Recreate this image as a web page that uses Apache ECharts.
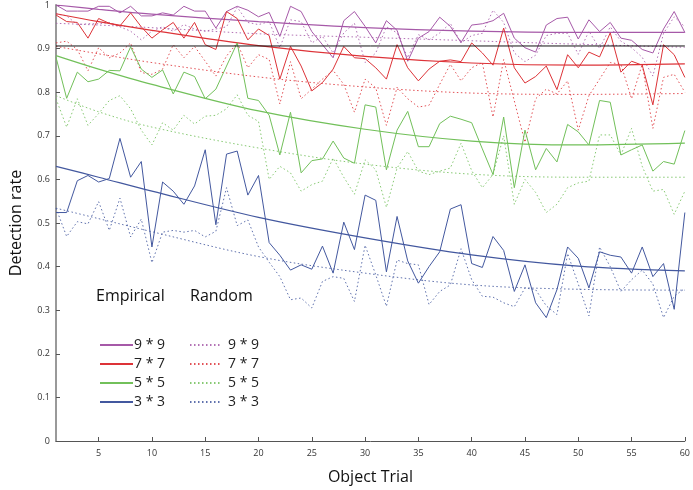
<!DOCTYPE html>
<html><head><meta charset="utf-8">
<script src="https://cdn.jsdelivr.net/npm/echarts@6/dist/echarts.min.js"></script>
<style>html,body{margin:0;padding:0;background:#fff}#c{width:693px;height:490px}</style>
</head><body><div id="c"></div>
<script>
// ---- data ----
var trials = [];
for (var t = 1; t <= 60; t++) trials.push(t);
var xTicks = [5,10,15,20,25,30,35,40,45,50,55,60];
var yTicks = [0,0.1,0.2,0.3,0.4,0.5,0.6,0.7,0.8,0.9,1];

var emp9 = [1.0,0.986,0.986,0.986,0.997,0.997,0.982,0.997,0.975,0.975,0.982,0.977,0.997,0.986,0.986,0.947,0.985,0.997,0.988,0.973,0.983,0.928,0.997,0.985,0.939,0.909,0.879,0.964,0.985,0.951,0.913,0.964,0.942,0.871,0.924,0.939,0.972,0.951,0.914,0.954,0.957,0.964,0.981,0.924,0.902,0.892,0.954,0.969,0.972,0.922,0.966,0.939,0.96,0.924,0.919,0.898,0.89,0.945,0.985,0.937];
var emp7 = [0.977,0.962,0.96,0.924,0.969,0.958,0.952,0.982,0.95,0.924,0.943,0.96,0.924,0.96,0.909,0.898,0.985,0.969,0.92,0.945,0.93,0.83,0.905,0.86,0.803,0.822,0.853,0.905,0.879,0.877,0.856,0.83,0.909,0.856,0.826,0.853,0.871,0.874,0.87,0.913,0.89,0.862,0.947,0.856,0.821,0.836,0.86,0.806,0.886,0.856,0.892,0.881,0.936,0.846,0.871,0.862,0.771,0.909,0.886,0.834];
var emp5 = [0.88,0.786,0.846,0.824,0.83,0.85,0.849,0.904,0.853,0.834,0.851,0.796,0.846,0.836,0.785,0.807,0.86,0.913,0.786,0.781,0.747,0.656,0.754,0.615,0.643,0.647,0.688,0.649,0.637,0.771,0.766,0.622,0.713,0.756,0.675,0.675,0.728,0.745,0.738,0.73,0.67,0.611,0.743,0.581,0.713,0.622,0.671,0.64,0.726,0.709,0.679,0.781,0.777,0.656,0.668,0.679,0.619,0.641,0.635,0.712];
var emp3 = [0.524,0.524,0.597,0.609,0.594,0.602,0.694,0.605,0.641,0.445,0.594,0.573,0.543,0.585,0.668,0.496,0.658,0.665,0.564,0.609,0.455,0.426,0.392,0.404,0.394,0.447,0.385,0.502,0.439,0.564,0.552,0.388,0.515,0.413,0.362,0.4,0.434,0.532,0.542,0.407,0.398,0.469,0.437,0.343,0.404,0.317,0.283,0.347,0.445,0.419,0.351,0.434,0.426,0.422,0.385,0.445,0.377,0.407,0.302,0.524];
var rnd9 = [0.98,0.975,0.955,0.957,0.957,0.96,0.95,0.94,0.92,0.94,0.95,0.94,0.955,0.945,0.94,0.945,0.95,0.995,0.96,0.955,0.962,0.902,0.966,0.962,0.913,0.928,0.89,0.936,0.958,0.868,0.89,0.95,0.936,0.879,0.932,0.92,0.936,0.958,0.913,0.93,0.935,0.988,0.96,0.89,0.87,0.885,0.93,0.935,0.935,0.887,0.94,0.9,0.95,0.917,0.902,0.88,0.837,0.935,0.973,0.95];
var rnd7 = [0.913,0.917,0.898,0.849,0.902,0.879,0.89,0.913,0.845,0.841,0.853,0.909,0.879,0.905,0.871,0.837,0.883,0.913,0.856,0.886,0.875,0.773,0.87,0.785,0.807,0.83,0.85,0.818,0.754,0.83,0.81,0.724,0.811,0.785,0.766,0.77,0.818,0.864,0.826,0.856,0.868,0.743,0.875,0.78,0.685,0.785,0.807,0.796,0.826,0.713,0.792,0.83,0.868,0.864,0.785,0.864,0.717,0.834,0.841,0.8];
var rnd5 = [0.785,0.72,0.785,0.724,0.751,0.781,0.792,0.762,0.713,0.679,0.73,0.713,0.747,0.727,0.745,0.747,0.762,0.794,0.747,0.733,0.6,0.63,0.615,0.573,0.588,0.596,0.649,0.605,0.566,0.645,0.622,0.536,0.626,0.664,0.619,0.611,0.619,0.626,0.683,0.62,0.581,0.611,0.7,0.543,0.6,0.57,0.524,0.543,0.581,0.592,0.596,0.702,0.702,0.656,0.717,0.63,0.573,0.577,0.52,0.573];
var rnd3 = [0.534,0.469,0.503,0.498,0.549,0.483,0.557,0.468,0.509,0.409,0.479,0.483,0.479,0.483,0.468,0.481,0.581,0.494,0.507,0.445,0.41,0.377,0.324,0.328,0.305,0.366,0.377,0.373,0.32,0.449,0.381,0.309,0.415,0.407,0.404,0.313,0.343,0.358,0.441,0.37,0.332,0.33,0.317,0.308,0.351,0.347,0.31,0.29,0.43,0.36,0.287,0.445,0.4,0.343,0.37,0.392,0.36,0.283,0.332,0.35];

// fitted trend curves, read at these trials
var fitX = [1,5,10,20,30,40,50,60];
var fitEmp9 = [1.0,0.99,0.979,0.962,0.948,0.94,0.937,0.937];
var fitEmp7 = [0.98,0.962,0.942,0.907,0.882,0.867,0.862,0.865];
var fitEmp5 = [0.884,0.853,0.818,0.757,0.715,0.688,0.679,0.683];
var fitEmp3 = [0.63,0.605,0.573,0.513,0.466,0.427,0.401,0.39];
var fitRnd9 = [0.958,0.954,0.948,0.934,0.926,0.918,0.91,0.903];
var fitRnd7 = [0.905,0.888,0.868,0.835,0.812,0.798,0.795,0.797];
var fitRnd5 = [0.792,0.755,0.72,0.672,0.635,0.612,0.605,0.605];
var fitRnd3 = [0.534,0.51,0.48,0.423,0.385,0.358,0.348,0.346];

var refX = [1,60];
var refY = [0.906,0.906];

var empNames = ['9 * 9','7 * 7','5 * 5','3 * 3'];
var rndNames = ['9 * 9','7 * 7','5 * 5','3 * 3'];

// ---- chart ----
var colors = ['#a659a8','#dd3338','#72c05a','#43589f'];
function pairs(xs, ys){ return xs.map(function(x,i){ return [x, ys[i]]; }); }

var empData = [emp9, emp7, emp5, emp3];
var rndData = [rnd9, rnd7, rnd5, rnd3];
var empFits = [fitEmp9, fitEmp7, fitEmp5, fitEmp3];
var rndFits = [fitRnd9, fitRnd7, fitRnd5, fitRnd3];

var series = [];
rndData.forEach(function(d,i){
  series.push({name:'R'+i, type:'line', data:pairs(trials,d), symbol:'none', silent:true,
    lineStyle:{color:colors[i], width:1, type:[1.5,2.5], opacity:0.85}, itemStyle:{color:colors[i]}});
  series.push({name:'RF'+i, type:'line', data:pairs(fitX,rndFits[i]), symbol:'none', smooth:0.35, silent:true,
    lineStyle:{color:colors[i], width:1, type:[1.5,2.5], opacity:0.85}});
});
empData.forEach(function(d,i){
  series.push({name:'E'+i, type:'line', data:pairs(trials,d), symbol:'none', silent:true,
    lineStyle:{color:colors[i], width:1}, itemStyle:{color:colors[i]}});
  series.push({name:'EF'+i, type:'line', data:pairs(fitX,empFits[i]), symbol:'none', smooth:0.35, silent:true,
    lineStyle:{color:colors[i], width:1.2}});
});
series.push({name:'ref', type:'line', data:pairs(refX,refY), symbol:'none', silent:true,
  lineStyle:{color:'#111', width:1}});

var font = 'Open Sans';
var option = {
  animation:false,
  backgroundColor:'#fff',
  grid:{left:46, right:8, top:5, bottom:43, containLabel:false},
  xAxis:{type:'value', min:1, max:60,
    name:'Object Trial', nameLocation:'middle', nameGap:28,
    nameTextStyle:{fontFamily:font, fontSize:16, color:'#111'},
    axisLine:{lineStyle:{color:'#555', width:1}},
    axisTick:{inside:true, length:4, customValues:xTicks, lineStyle:{color:'#555'}},
    axisLabel:{customValues:xTicks, fontFamily:font, fontSize:9, color:'#333', margin:8},
    splitLine:{show:false}},
  yAxis:{type:'value', min:0, max:1, interval:0.1,
    name:'Detection rate', nameLocation:'middle', nameGap:32,
    nameTextStyle:{fontFamily:font, fontSize:16, color:'#111'},
    axisLine:{show:true, lineStyle:{color:'#999', width:2}},
    axisTick:{show:true, inside:true, length:4, lineStyle:{color:'#555'}},
    axisLabel:{fontFamily:font, fontSize:9, color:'#333', margin:6},
    splitLine:{show:false}},
  legend:[
    {data:['E0','E1','E2','E3'], orient:'vertical', left:94, top:333, itemWidth:33, itemHeight:10, itemGap:5,
     itemStyle:{opacity:0},
     formatter:function(n){ return empNames[+n.slice(1)]; },
     textStyle:{fontFamily:font, fontSize:14, color:'#222', padding:[0,0,0,-4]}, selectedMode:false},
    {data:['R0','R1','R2','R3'], orient:'vertical', left:184, top:333, itemWidth:30, itemHeight:10, itemGap:5,
     itemStyle:{opacity:0},
     formatter:function(n){ return rndNames[+n.slice(1)]; },
     textStyle:{fontFamily:font, fontSize:14, color:'#222', padding:[0,0,0,3]}, selectedMode:false}
  ],
  graphic:[
    {type:'text', left:96, top:288, style:{text:'Empirical', font:'16px "Open Sans"', fill:'#111'}},
    {type:'text', left:190, top:288, style:{text:'Random', font:'16px "Open Sans"', fill:'#111'}}
  ],
  series:series
};
var chart = echarts.init(document.getElementById('c'), null, {renderer:'canvas'});
chart.setOption(option);
</script></body></html>
